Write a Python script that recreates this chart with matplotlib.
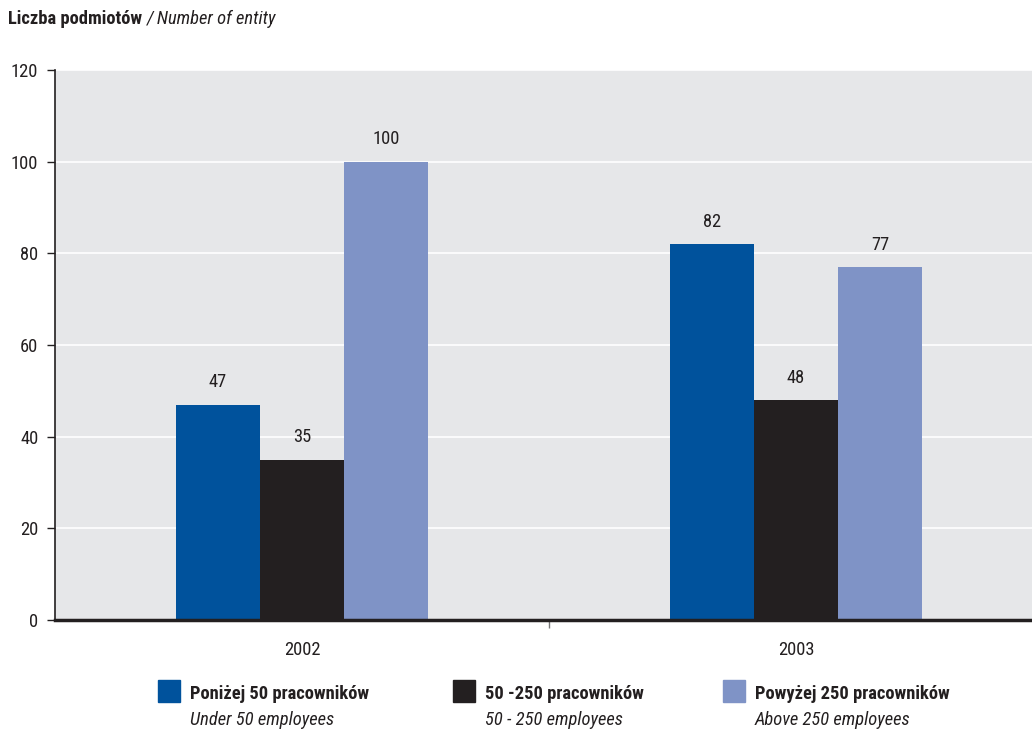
import matplotlib
matplotlib.use("Agg")
import matplotlib.pyplot as plt
from matplotlib import font_manager
from matplotlib.patches import Rectangle
import numpy as np

years = ["2002", "2003"]
series_pl = ["Poniżej 50 pracowników", "50 -250 pracowników", "Powyżej 250 pracowników"]
series_en = ["Under 50 employees", "50 - 250 employees", "Above 250 employees"]
under50 = [47, 82]
mid50_250 = [35, 48]
above250 = [100, 77]
yticks = [0, 20, 40, 60, 80, 100, 120]
colors = ["#00529c", "#231f20", "#7f93c6"]

names = {f.name for f in font_manager.fontManager.ttflist}
family = "DejaVu Sans"
stretch = "normal"
for cand in ["Liberation Sans Narrow", "DejaVu Sans Condensed", "Roboto Condensed", "Open Sans Condensed"]:
    if cand in names:
        family = cand
        break
else:
    stretch = "condensed"
plt.rcParams["font.family"] = [family, "DejaVu Sans"]
plt.rcParams["font.stretch"] = stretch

FS = 13.3
fig = plt.figure(figsize=(10.32, 7.32), dpi=100)
W, H = 1032, 732
x0, x1, ytop, ybot = 55, 1043, 70, 620
ax = fig.add_axes([x0 / W, 1 - ybot / H, (x1 - x0) / W, (ybot - ytop) / H])
ax.set_facecolor("#e6e7e9")
ax.set_xlim(-0.5, 1.5)
ax.set_ylim(0, 120)

x = np.arange(len(years))
bw = 0.170
vals = [under50, mid50_250, above250]
for i, (v, c) in enumerate(zip(vals, colors)):
    pos = x + (i - 1) * bw
    bars = ax.bar(pos, v, width=bw, color=c, zorder=3)
    for b, val in zip(bars, v):
        ax.text(b.get_x() + b.get_width() / 2, val + 2.9, str(val), ha="center", va="bottom",
                fontsize=FS, color="#231f20", zorder=4)

ax.set_yticks(yticks)
ax.set_yticklabels([str(t) for t in yticks], fontsize=FS, color="#231f20")
ax.yaxis.grid(True, color="white", linewidth=1.2, zorder=1)
ax.set_axisbelow(True)
ax.set_xticks([0.5])
ax.set_xticklabels([""])
for xi, yr in zip(x, years):
    ax.text(xi, -4.5, yr, ha="center", va="top", fontsize=FS, color="#231f20")
ax.tick_params(axis="y", direction="out", length=6, width=1, color="#231f20", pad=6)
ax.tick_params(axis="x", direction="out", length=6, width=1, color="#777777")
for s in ["top", "right"]:
    ax.spines[s].set_visible(False)
ax.spines["left"].set_color("#231f20")
ax.spines["left"].set_linewidth(1.2)
ax.spines["bottom"].set_color("#231f20")
ax.spines["bottom"].set_linewidth(2.5)
ax.spines["bottom"].set_zorder(5)

t1 = fig.text(8 / W, 1 - 19 / H, "Liczba podmiotów", fontsize=FS, fontweight="bold", color="#231f20", va="center")
fig.canvas.draw()
bb = t1.get_window_extent()
fig.text((bb.x1 + 5) / W, 1 - 19 / H, "/ Number of entity", fontsize=FS, fontstyle="italic", color="#231f20", va="center")

sq_x = [158, 453, 723]
for sx, c, pl, en in zip(sq_x, colors, series_pl, series_en):
    fig.patches.append(Rectangle((sx / W, 1 - 702 / H), 22 / W, 22 / H, transform=fig.transFigure,
                                 color=c, figure=fig))
    fig.text((sx + 32) / W, 1 - 694 / H, pl, fontsize=FS, fontweight="bold", color="#231f20", va="center")
    fig.text((sx + 32) / W, 1 - 720 / H, en, fontsize=FS, fontstyle="italic", color="#231f20", va="center")

fig.savefig("out.png", dpi=100)
